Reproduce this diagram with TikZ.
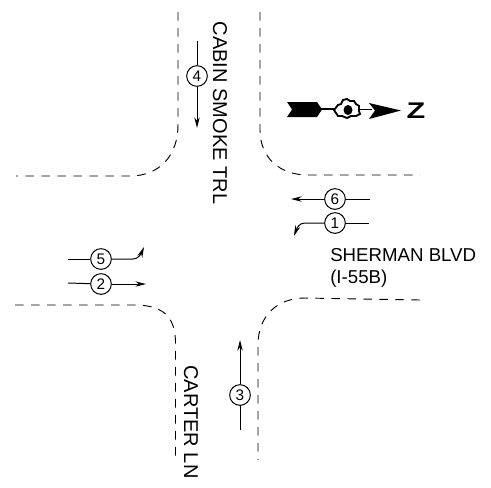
\documentclass[tikz,border=0pt]{standalone}
\usepackage{fontspec}
\setmainfont{Liberation Sans}
\usetikzlibrary{arrows.meta}
\tikzset{
  curb/.style={draw=black,line width=0.7pt,dash pattern=on 6.5pt off 5.5pt},
  mv/.style={draw=black,line width=0.75pt},
  mvarrow/.style={mv,-{Stealth[length=8pt,width=4pt]}},
  num/.style={circle,draw=black,line width=0.75pt,fill=white,minimum size=15.5pt,inner sep=0pt,font=\fontsize{11.5}{13}\selectfont},
  lab/.style={font=\fontsize{15}{16}\selectfont,inner sep=0pt}
}
\begin{document}
\begin{tikzpicture}[x=0.75pt,y=-0.75pt]
\useasboundingbox (0,0) rectangle (491,487);
% curbs
\draw[curb] (178,12) -- (178,125) .. controls (178,155) and (160,176) .. (130,176) -- (16,176);
\draw[curb] (260,12) -- (260,130) .. controls (260,158) and (280,175) .. (308,175) -- (420,175);
\draw[curb] (15,305) -- (135,305) .. controls (168,305) and (175,322) .. (175.5,342) -- (175.5,460);
\draw[curb] (420,300) -- (305,298) .. controls (278,298) and (258,315) .. (258,345) -- (258,460);
% movement nodes
\node[num] (n4) at (197,76) {4};
\node[num] (n6) at (335,199) {6};
\node[num] (n1) at (335,223) {1};
\node[num] (n5) at (101,259) {5};
\node[num] (n2) at (101,284) {2};
\node[num] (n3) at (240,395) {3};
% movement ends
\coordinate (e4a) at (197,41);
\coordinate (e4b) at (197,128);
\coordinate (e6a) at (370,199);
\coordinate (e6b) at (291,199);
\coordinate (e1a) at (369,223);
\coordinate (e1c) at (305,223);
\coordinate (e1b) at (294,236);
\coordinate (e5a) at (68,259);
\coordinate (e5c) at (133,259);
\coordinate (e5b) at (144,247);
\coordinate (e2a) at (68,283);
\coordinate (e2b) at (146,284);
\coordinate (e3a) at (240,430);
\coordinate (e3b) at (240,340);
\draw[mv] (e4a) -- (n4);
\draw[mvarrow] (n4) -- (e4b);
\draw[mv] (e6a) -- (n6);
\draw[mvarrow] (n6) -- (e6b);
\draw[mv] (e1a) -- (n1);
\draw[mvarrow] (n1) -- (e1c) .. controls (299,223) and (297,228) .. (e1b);
\draw[mv] (e5a) -- (n5);
\draw[mvarrow] (n5) -- (e5c) .. controls (138,259) and (141,254) .. (e5b);
\draw[mv] (e2a) -- (n2);
\draw[mvarrow] (n2) -- (e2b);
\draw[mv] (e3a) -- (n3);
\draw[mvarrow] (n3) -- (e3b);
% labels
\node[lab,rotate=-90] (cabin) at (220,113) {CABIN SMOKE TRL};
\node[lab,rotate=-90] (carter) at (191,422) {CARTER LN};
\node[font=\fontsize{14}{16.5}\selectfont,inner sep=0pt,anchor=west,align=left] (sherman) at (330,268) {SHERMAN BLVD\\(I-55B)};
% north arrow
\fill (287,102) -- (317,102) -- (322,109.5) -- (317,117) -- (287,117) -- (292,109.5) -- cycle;
\draw[line width=0.9pt] (320,109) -- (336,109);
\draw[line width=1.4pt,fill=white] (334,110) -- (338,105) -- (341,104) -- (343,100) -- (347,99) -- (350,101) -- (354,101) -- (356,104) -- (359,106) -- (359,111) -- (360,114) -- (356,116) -- (351,116) -- (347,118) -- (342,116) -- (338,116) -- cycle;
\fill (348,110) ellipse (4.5 and 5);
\draw[line width=0.9pt] (359,109.5) -- (372,109.5);
\fill (369,103) -- (401,110.5) -- (369,119) -- (375,110.5) -- cycle;
\node[font=\fontsize{17}{17}\selectfont\bfseries,inner sep=0pt,xscale=1.35] (north) at (416,111) {Z};
\end{tikzpicture}
\end{document}
